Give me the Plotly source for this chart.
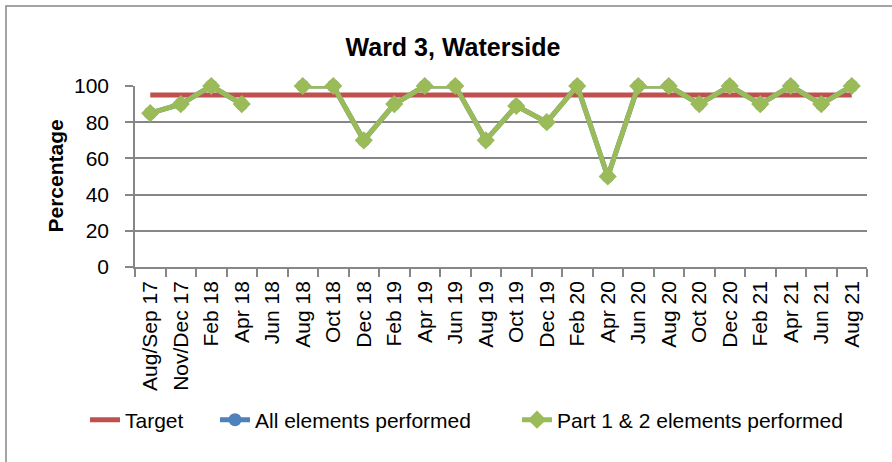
import plotly.graph_objects as go

# Chart data
periods = ['Aug/Sep 17', 'Nov/Dec 17', 'Feb 18', 'Apr 18', 'Jun 18', 'Aug 18', 'Oct 18',
           'Dec 18', 'Feb 19', 'Apr 19', 'Jun 19', 'Aug 19', 'Oct 19', 'Dec 19',
           'Feb 20', 'Apr 20', 'Jun 20', 'Aug 20', 'Oct 20', 'Dec 20', 'Feb 21',
           'Apr 21', 'Jun 21', 'Aug 21']
target = [95] * len(periods)
all_elements = [85, 90, 100, 90, None, 100, 100, 70, 90, 100, 100, 70, 89, 80,
                100, 50, 100, 100, 90, 100, 90, 100, 90, 100]
part_1_2 = [85, 90, 100, 90, None, 100, 100, 70, 90, 100, 100, 70, 89, 80,
            100, 50, 100, 100, 90, 100, 90, 100, 90, 100]

font = 'Liberation Sans'
grid = '#868686'

fig = go.Figure()
fig.add_trace(go.Scatter(x=periods, y=target, mode='lines', name='Target',
                         line=dict(color='#C0504D', width=5), legend='legend'))
fig.add_trace(go.Scatter(x=periods, y=all_elements, mode='lines+markers',
                         name='All elements performed',
                         line=dict(color='#4F81BD', width=5),
                         marker=dict(symbol='circle', size=13, color='#4F81BD'),
                         cliponaxis=False, legend='legend2'))
fig.add_trace(go.Scatter(x=periods, y=part_1_2, mode='lines+markers',
                         name='Part 1 & 2 elements performed',
                         line=dict(color='#9BBB59', width=5),
                         marker=dict(symbol='diamond', size=14, color='#9BBB59'),
                         cliponaxis=False, legend='legend3'))

# one legend box per entry so each sits where the reference puts it
leg = dict(orientation='h', xref='container', xanchor='left', yref='container',
           y=1 - 420 / 462, yanchor='middle', bgcolor='rgba(0,0,0,0)',
           font=dict(size=21))

fig.update_layout(
    width=892, height=462,
    margin=dict(l=135, r=25, t=86, b=195),
    paper_bgcolor='white', plot_bgcolor='white',
    font=dict(family=font, size=21, color='black'),
    title=dict(text='<b>Ward 3, Waterside</b>', xref='container', x=453 / 892,
               xanchor='center', yref='container', y=1 - 47 / 462, yanchor='middle',
               font=dict(size=25)),
    legend=dict(leg, x=85 / 892),
    legend2=dict(leg, x=215 / 892),
    legend3=dict(leg, x=517 / 892),
    showlegend=True,
)
fig.update_xaxes(type='category', range=[-0.5, 23.5], tickangle=-90, automargin=False,
                 tickson='boundaries', ticks='outside', ticklen=8, tickcolor=grid,
                 tickwidth=1.5, ticklabelstandoff=4,
                 showline=True, linecolor=grid, linewidth=1.5, showgrid=False,
                 tickfont=dict(size=21))
fig.update_yaxes(range=[0, 100], dtick=20, ticks='outside', ticklen=8, tickcolor=grid,
                 tickwidth=1.5, ticklabelstandoff=12, automargin=False,
                 showline=True, linecolor=grid, linewidth=1.5,
                 showgrid=True, gridcolor=grid, gridwidth=1.5, zeroline=False,
                 tickfont=dict(size=21))

# y axis title
fig.add_annotation(text='<b>Percentage</b>', xref='paper', yref='paper',
                   x=(55 - 135) / 732, y=0.5, textangle=-90, showarrow=False,
                   font=dict(size=21), xanchor='center', yanchor='middle')

# chart frame
fig.add_shape(type='rect', xref='paper', yref='paper',
              x0=-(135 - 6) / 732, x1=1.2, y0=-2, y1=(267 - 6) / 181,
              line=dict(color=grid, width=1.5), layer='below')

# drop the default page margin so the figure sits at the window corner
fig.write_html('out.html', config={'displayModeBar': False},
               post_script="document.body.style.margin='0';")
